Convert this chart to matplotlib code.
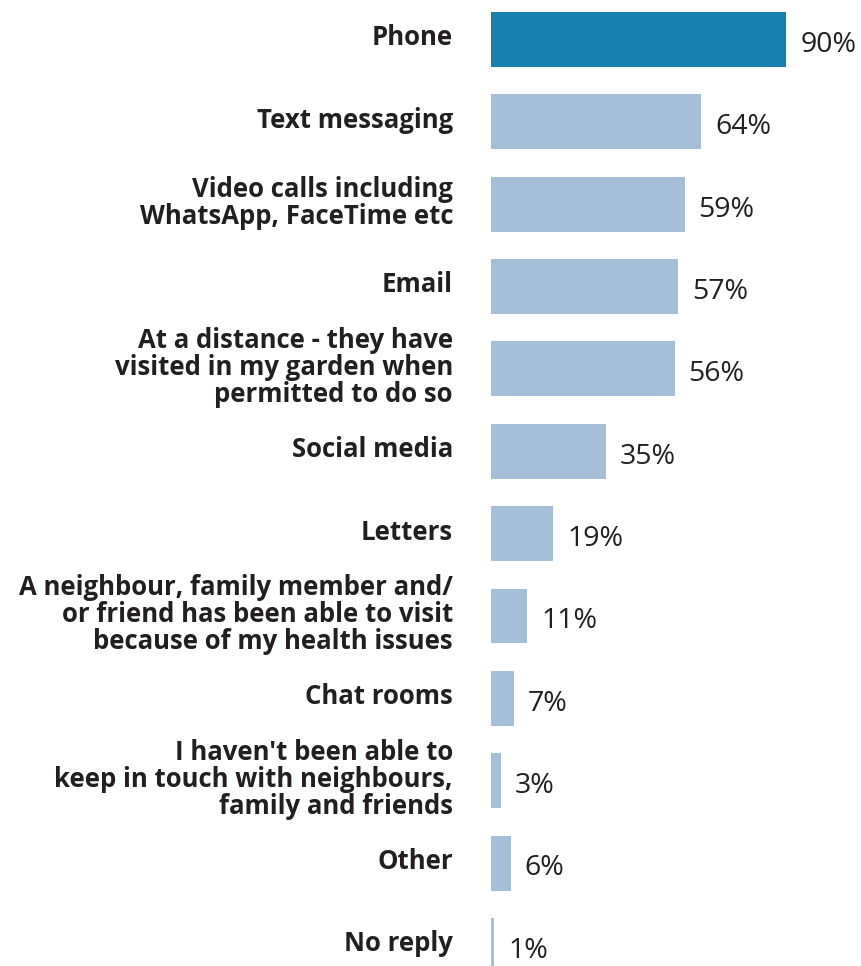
import matplotlib.pyplot as plt

# survey answers, top to bottom
labels = [
    "Phone",
    "Text messaging",
    "Video calls including\nWhatsApp, FaceTime etc",
    "Email",
    "At a distance - they have\nvisited in my garden when\npermitted to do so",
    "Social media",
    "Letters",
    "A neighbour, family member and/\nor friend has been able to visit\nbecause of my health issues",
    "Chat rooms",
    "I haven't been able to\nkeep in touch with neighbours,\nfamily and friends",
    "Other",
    "No reply",
]
values = [90, 64, 59, 57, 56, 35, 19, 11, 7, 3, 6, 1]

dark = "#1880AF"
light = "#A6BFD9"
txt = "#231F20"

plt.rcParams['font.family'] = ['Open Sans', 'DejaVu Sans']

fig = plt.figure(figsize=(8.61, 9.66), dpi=100)
px = 3.28  # pixels per percent
ax = fig.add_axes([491 / 861, 0, 370 / 861, 1])
ax.set_xlim(0, 370 / px)
ax.set_ylim(11.25, -0.48)
ax.axis('off')

pos = list(range(len(values)))
colors = [dark] + [light] * (len(values) - 1)
ax.barh(pos, values, height=0.667, color=colors)

for i, (lab, v) in enumerate(zip(labels, values)):
    ax.text(-38 / px, i - 0.02, lab, ha='right', va='center', fontsize=18.5,
            fontweight='bold', color=txt, linespacing=1.0)
    ax.text(v + 14 / px, i + 0.15, f"{v}%", ha='left', va='baseline',
            fontsize=20.5, color=txt)

fig.savefig("out.png", dpi=100)
